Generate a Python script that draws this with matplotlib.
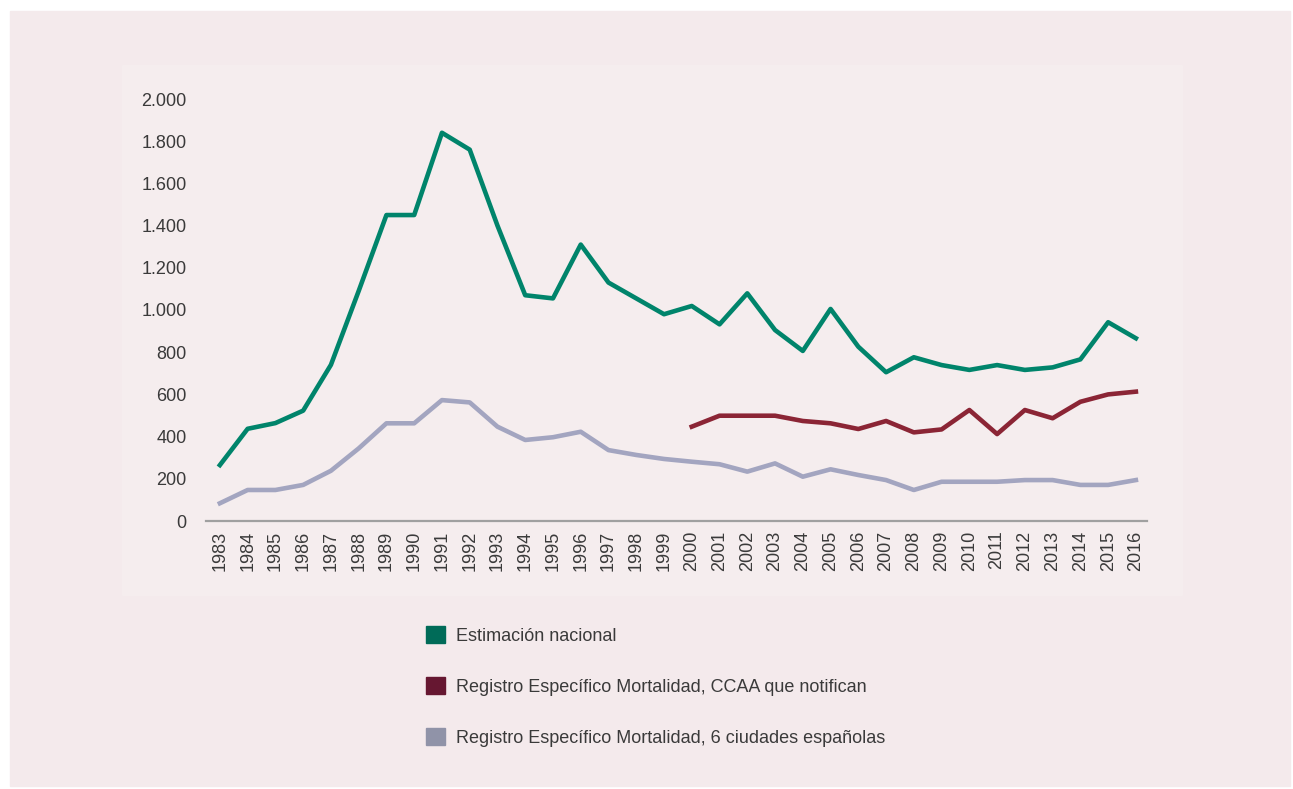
import matplotlib
matplotlib.use('Agg')
import matplotlib.pyplot as plt
from matplotlib.patches import Rectangle, Patch
from matplotlib.ticker import FuncFormatter

years = list(range(1983, 2017))
nacional = [265, 437, 464, 523, 740, 1090, 1450, 1450, 1840, 1760,
            1400, 1070, 1055, 1310, 1130, 1055, 980, 1019, 932, 1079,
            905, 806, 1005, 826, 705, 776, 739, 716, 739, 716,
            728, 766, 942, 866]
ccaa_years = list(range(2000, 2017))
ccaa = [447, 499, 499, 499, 474, 463, 436, 474, 420, 434,
        526, 412, 526, 487, 565, 600, 613]
ciudades = [84, 147, 147, 171, 238, 344, 463, 463, 573, 562,
            447, 384, 397, 423, 336, 313, 294, 281, 269, 234,
            273, 210, 245, 218, 194, 147, 186, 186, 186, 194,
            194, 171, 171, 194]
labels = ['Estimación nacional',
          'Registro Específico Mortalidad, CCAA que notifican',
          'Registro Específico Mortalidad, 6 ciudades españolas']

plt.rcParams['font.family'] = ['Liberation Sans', 'DejaVu Sans']
W, H = 1293, 789
fig = plt.figure(figsize=(W / 100, H / 100), dpi=100, facecolor='white')

# backgrounds (pixel boxes -> figure fractions)
def box(x0, y0, x1, y1, color):
    fig.patches.append(Rectangle((x0 / W, 1 - y1 / H), (x1 - x0) / W, (y1 - y0) / H,
                                 transform=fig.transFigure, color=color, zorder=-10))

box(10, 11, 1290, 786, '#f4eaec')
box(122, 65, 1182, 595, '#f5edee')

ax = fig.add_axes([206 / W, 1 - 521 / H, (1147 - 206) / W, (521 - 99) / H])
ax.patch.set_alpha(0)

ax.plot(years, nacional, color='#00846b', lw=3.3, clip_on=False)
ax.plot(ccaa_years, ccaa, color='#8b2535', lw=3.3, clip_on=False)
ax.plot(years, ciudades, color='#a3a5c0', lw=3.3, clip_on=False)

ax.set_xlim(1982.5, 2016.4)
ax.set_ylim(0, 2000)
ax.set_xticks(years)
ax.set_xticklabels([str(y) for y in years], rotation=90)
ax.set_yticks(range(0, 2001, 200))
ax.yaxis.set_major_formatter(FuncFormatter(lambda v, p: f'{int(v):,}'.replace(',', '.')))
ax.tick_params(axis='both', length=0, labelsize=13, labelcolor='#3a3a3a')
ax.tick_params(axis='y', pad=14)
ax.tick_params(axis='x', pad=7)

for s in ['top', 'right', 'left']:
    ax.spines[s].set_visible(False)
ax.spines['bottom'].set_color('#a0a0a0')
ax.spines['bottom'].set_linewidth(1.6)

handles = [Patch(color='#006b58'), Patch(color='#661731'), Patch(color='#9093a8')]
fig.legend(handles, labels, loc='upper left', bbox_to_anchor=(426 / W, 1 - 626 / H),
           frameon=False, fontsize=13, labelcolor='#3a3a3a',
           handlelength=1.05, handleheight=1.05, handletextpad=0.6,
           labelspacing=1.8, borderpad=0, borderaxespad=0)

fig.savefig('out.png', dpi=100, facecolor='white')
